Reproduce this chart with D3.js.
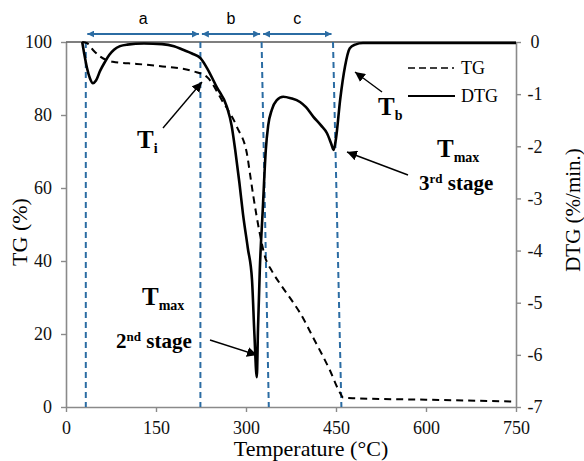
<!DOCTYPE html>
<html lang="en">
<head>
    <meta charset="UTF-8">
    <title>TG / DTG</title>
    <style>
        body { margin: 0; background: #fff; }
    </style>
</head>
<body>

    <svg id="svg" width="584" height="461"></svg>

    <script src="https://d3js.org/d3.v7.min.js"></script>
    <script>
        // TG curve (temperature in °C, mass %)
        const tgTemp = [27, 35, 45, 57, 78, 118, 168, 212, 235, 260, 285, 302, 307, 312, 318, 323, 332, 343, 360, 378, 390, 412, 440, 457, 462, 480, 600, 745]
        const tgVal  = [100, 99.7, 97.8, 96, 94.6, 94, 93.2, 92, 90.4, 84, 76.7, 69, 63.5, 58, 52, 47.5, 41, 37.3, 33, 28.8, 25.8, 19, 10, 3.8, 2.6, 2.4, 2, 1.5]

        // DTG curve (%/min.)
        const dtgTemp = [27, 30, 35, 40, 45, 50, 57, 65, 72, 80, 90, 102, 130, 160, 180, 195, 210, 224, 235, 251, 268, 276, 282, 289, 295, 303, 310, 314, 318, 320, 323, 328, 333, 337, 343, 351, 362, 375, 390, 400, 412, 425, 435, 442, 446, 450, 457, 465, 473, 482, 495, 600, 750]
        const dtgVal  = [0, -0.2, -0.5, -0.7, -0.79, -0.74, -0.55, -0.38, -0.25, -0.15, -0.08, -0.05, -0.03, -0.04, -0.08, -0.15, -0.22, -0.31, -0.5, -0.86, -1.24, -1.6, -2.07, -2.7, -3.3, -3.95, -4.56, -5.6, -6.43, -5.5, -4.37, -3.2, -2.07, -1.6, -1.3, -1.12, -1.05, -1.08, -1.15, -1.25, -1.43, -1.6, -1.75, -1.95, -2.07, -1.85, -1.1, -0.47, -0.12, -0.05, -0.02, -0.02, -0.02]

        // stage boundaries (top and bottom temperature of each blue dashed line)
        const boundTop    = [33, 224, 326, 445]
        const boundBottom = [33, 224, 338, 459]
        const stageNames  = ['a', 'b', 'c']

        const xTicks   = [0, 150, 300, 450, 600, 750]
        const tgTicks  = [0, 20, 40, 60, 80, 100]
        const dtgTicks = [0, -1, -2, -3, -4, -5, -6, -7]

        const blue = '#2b6ca3'
        const axisGrey = '#8a8a8a'

        const svg = d3.select('#svg')

        const xScale = d3.scaleLinear().domain([0, 750]).range([66, 516])
        const yTG = d3.scaleLinear().domain([0, 100]).range([407, 42])
        const yDTG = d3.scaleLinear().domain([-7, 0]).range([407, 42])

        // arrowheads
        const defs = svg.append('defs')
        const marker = (id, color, size) => defs.append('marker')
            .attr('id', id)
            .attr('viewBox', '0 0 10 10')
            .attr('refX', 10).attr('refY', 5)
            .attr('markerWidth', size).attr('markerHeight', size)
            .attr('markerUnits', 'userSpaceOnUse')
            .attr('orient', 'auto-start-reverse')
            .append('path')
            .attr('d', 'M0,0 L10,5 L0,10 z')
            .attr('fill', color)
        marker('blueHead', blue, 7)
        marker('blackHead', '#000', 10)

        // axes
        const xAxis = svg.append('g')
            .attr('transform', 'translate(0,407)')
            .call(d3.axisBottom(xScale).tickValues(xTicks).tickSize(5).tickSizeOuter(0))
        const leftAxis = svg.append('g')
            .attr('transform', 'translate(66,0)')
            .call(d3.axisLeft(yTG).tickValues(tgTicks).tickSize(5).tickSizeOuter(0))
        const rightAxis = svg.append('g')
            .attr('transform', 'translate(516,0)')
            .call(d3.axisRight(yDTG).tickValues(dtgTicks).tickSize(5).tickSizeOuter(0)
                .tickFormat(d => d < 0 ? '-' + Math.abs(d) : d))

        ;[xAxis, leftAxis, rightAxis].forEach(ax => {
            ax.attr('font-size', 18).attr('font-family', 'Liberation Serif')
            ax.select('.domain').attr('stroke', axisGrey).attr('stroke-width', 1.6)
            ax.selectAll('.tick line').attr('stroke', axisGrey).attr('stroke-width', 1.4)
            ax.selectAll('.tick text').attr('fill', '#111')
        })
        xAxis.selectAll('.tick text').attr('y', 14)
        leftAxis.selectAll('.tick text').attr('x', -14)
        rightAxis.selectAll('.tick text').attr('x', 19).attr('text-anchor', 'middle')

        // top frame line
        svg.append('line')
            .attr('x1', 66).attr('x2', 516)
            .attr('y1', 42).attr('y2', 42)
            .attr('stroke', '#555').attr('stroke-width', 1.6)

        // stage boundaries
        svg.selectAll('.bound')
            .data(boundTop)
            .enter()
            .append('line')
            .attr('x1', d => xScale(d))
            .attr('x2', (d, i) => xScale(boundBottom[i]))
            .attr('y1', 42).attr('y2', 407)
            .attr('stroke', blue)
            .attr('stroke-width', 2)
            .attr('stroke-dasharray', '6,4')

        // curves
        const tgData = tgTemp.map((t, i) => [t, tgVal[i]])
        const dtgData = dtgTemp.map((t, i) => [t, dtgVal[i]])

        svg.append('path')
            .attr('d', d3.line().x(d => xScale(d[0])).y(d => yTG(d[1])).curve(d3.curveMonotoneX)(tgData))
            .attr('fill', 'none')
            .attr('stroke', '#000')
            .attr('stroke-width', 2)
            .attr('stroke-dasharray', '7,5')

        svg.append('path')
            .attr('d', d3.line().x(d => xScale(d[0])).y(d => yDTG(d[1])).curve(d3.curveMonotoneX)(dtgData))
            .attr('fill', 'none')
            .attr('stroke', '#000')
            .attr('stroke-width', 2.6)

        // legend
        svg.append('line')
            .attr('x1', 408).attr('x2', 454).attr('y1', 68).attr('y2', 68)
            .attr('stroke', '#000').attr('stroke-width', 1.6).attr('stroke-dasharray', '7,4')
        svg.append('line')
            .attr('x1', 408).attr('x2', 455).attr('y1', 96).attr('y2', 96)
            .attr('stroke', '#000').attr('stroke-width', 2)
        svg.append('text').attr('x', 461).attr('y', 74).attr('font-size', 18).text('TG')
        svg.append('text').attr('x', 461).attr('y', 102).attr('font-size', 18).text('DTG')

        // axis titles
        svg.append('text')
            .attr('x', 311).attr('y', 456)
            .attr('text-anchor', 'middle')
            .attr('font-size', 22)
            .text('Temperature (°C)')
        svg.append('text')
            .attr('transform', 'translate(27,232) rotate(-90)')
            .attr('text-anchor', 'middle')
            .attr('font-size', 22)
            .text('TG (%)')
        svg.append('text')
            .attr('transform', 'translate(580,210) rotate(-90)')
            .attr('text-anchor', 'middle')
            .attr('font-size', 21)
            .text('DTG (%/min.)')

        // annotations
        const label = (x, y, main, sub, size) => {
            const t = svg.append('text')
                .attr('x', x).attr('y', y)
                .attr('font-weight', 'bold')
                .attr('font-size', size)
            t.append('tspan').text(main)
            t.append('tspan').attr('dy', 5).attr('font-size', 14).text(sub)
        }
        const stage = (x, y, num, sup) => {
            const t = svg.append('text')
                .attr('x', x).attr('y', y)
                .attr('font-weight', 'bold')
                .attr('font-size', 21)
            t.append('tspan').text(num)
            t.append('tspan').attr('dy', -7).attr('font-size', 13).text(sup)
            t.append('tspan').attr('dy', 7).text(' stage')
        }
        const pointer = (x1, y1, x2, y2) => svg.append('line')
            .attr('x1', x1).attr('y1', y1).attr('x2', x2).attr('y2', y2)
            .attr('stroke', '#000').attr('stroke-width', 1.4)
            .attr('marker-end', 'url(#blackHead)')

        label(137, 148, 'T', 'i', 25)
        pointer(163, 128, 202, 82)

        label(378, 115, 'T', 'b', 25)
        pointer(382, 92, 355, 72)

        label(437, 157, 'T', 'max', 25)
        stage(419, 190, '3', 'rd')
        pointer(408, 175, 347, 152)

        label(142, 305, 'T', 'max', 25)
        stage(116, 348, '2', 'nd')
        pointer(210, 340, 257, 355)

        // every text in Times-like serif
        svg.selectAll('text').attr('font-family', 'Liberation Serif')

        // stage arrows on top (sans labels)
        stageNames.forEach((name, i) => {
            const x1 = xScale(boundTop[i]) + 1.5
            const x2 = xScale(boundTop[i + 1]) - 1.5
            svg.append('line')
                .attr('x1', x1).attr('x2', x2)
                .attr('y1', 34).attr('y2', 34)
                .attr('stroke', blue).attr('stroke-width', 1.8)
                .attr('marker-start', 'url(#blueHead)')
                .attr('marker-end', 'url(#blueHead)')
            svg.append('text')
                .attr('x', (x1 + x2) / 2).attr('y', 24)
                .attr('text-anchor', 'middle')
                .attr('font-family', 'Liberation Sans')
                .attr('font-size', 16)
                .text(name)
        })
    </script>
</body>
</html>
